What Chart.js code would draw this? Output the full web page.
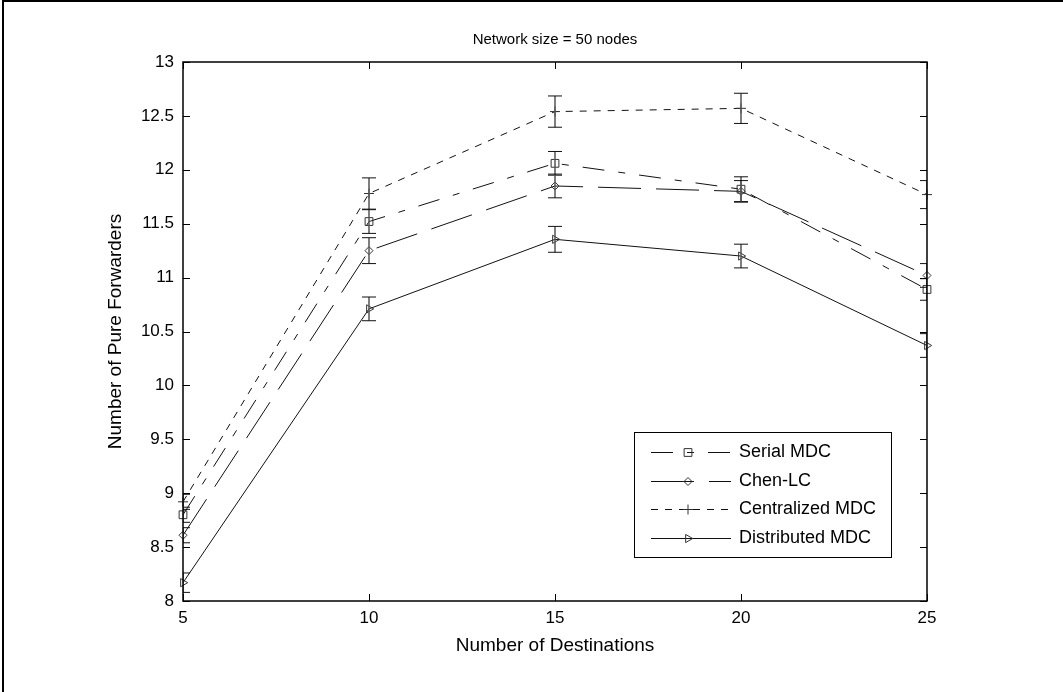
<!DOCTYPE html>
<html>
<head>
<meta charset="utf-8">
<script src="https://cdn.jsdelivr.net/npm/chart.js@4.4.1/dist/chart.umd.min.js"></script>
<style>
  html, body { margin: 0; padding: 0; background: #ffffff; }
  #wrap { width: 1063px; height: 692px; position: relative; }
</style>
</head>
<body>
<div id="wrap"><canvas id="c" width="1063" height="692"></canvas></div>
<script>
// ---- data ----
const categories = [5, 10, 15, 20, 25];
const seriesLabels = ['Serial MDC', 'Chen-LC', 'Centralized MDC', 'Distributed MDC'];
const serialMDC      = [8.80, 11.52, 12.06, 11.82, 10.89];
const serialErr      = [0.07, 0.11, 0.11, 0.115, 0.10];
const chenLC         = [8.61, 11.25, 11.85, 11.80, 11.02];
const chenErr        = [0.07, 0.12, 0.11, 0.10, 0.11];
const centralizedMDC = [8.92, 11.78, 12.54, 12.57, 11.77];
const centralizedErr = [0.07, 0.145, 0.145, 0.14, 0.13];
const distributedMDC = [8.17, 10.71, 11.355, 11.20, 10.37];
const distributedErr = [0.09, 0.11, 0.12, 0.11, 0.11];
const xTickValues = [5, 10, 15, 20, 25];
const yTickValues = [8, 8.5, 9, 9.5, 10, 10.5, 11, 11.5, 12, 12.5, 13];
const titleText = 'Network size = 50 nodes';
const xTitle = 'Number of Destinations';
const yTitle = 'Number of Pure Forwarders';

const FONT = '"Liberation Sans", Arial, Helvetica, sans-serif';
const errors = [serialErr, chenErr, centralizedErr, distributedErr];

function pts(vals) { return categories.map((x, i) => ({ x: x, y: vals[i] })); }

const common = {
  borderColor: '#111111',
  borderWidth: 1,
  fill: false,
  tension: 0,
  pointBorderColor: '#333333',
  pointBackgroundColor: 'rgba(0,0,0,0)',
  pointBorderWidth: 1,
  pointHoverRadius: 5,
  clip: false
};

const datasets = [
  Object.assign({}, common, { label: seriesLabels[0], data: pts(serialMDC), borderDash: [22, 14, 7, 14], pointStyle: 'rect', pointRadius: 5.5 }),
  Object.assign({}, common, { label: seriesLabels[1], data: pts(chenLC), borderDash: [43, 15], pointStyle: 'rectRot', pointRadius: 4 }),
  Object.assign({}, common, { label: seriesLabels[2], data: pts(centralizedMDC), borderDash: [7, 7], pointStyle: 'cross', pointRadius: 5 }),
  Object.assign({}, common, { label: seriesLabels[3], data: pts(distributedMDC), borderDash: [], pointStyle: 'triangle', pointRotation: 90, pointRadius: 4.7 })
];

function drawMarker(ctx, style, x, y, r, rot) {
  ctx.beginPath();
  if (style === 'rect') {
    const s = r * Math.SQRT1_2;
    ctx.rect(x - s, y - s, 2 * s, 2 * s);
  } else if (style === 'rectRot') {
    ctx.moveTo(x - r, y); ctx.lineTo(x, y + r); ctx.lineTo(x + r, y); ctx.lineTo(x, y - r); ctx.closePath();
  } else if (style === 'cross') {
    ctx.moveTo(x - r, y); ctx.lineTo(x + r, y); ctx.moveTo(x, y - r); ctx.lineTo(x, y + r);
  } else if (style === 'triangle') {
    let rad = (rot || 0) * Math.PI / 180;
    ctx.moveTo(x + Math.sin(rad) * r, y - Math.cos(rad) * r);
    rad += 2 * Math.PI / 3;
    ctx.lineTo(x + Math.sin(rad) * r, y - Math.cos(rad) * r);
    rad += 2 * Math.PI / 3;
    ctx.lineTo(x + Math.sin(rad) * r, y - Math.cos(rad) * r);
    ctx.closePath();
  }
  ctx.stroke();
}

const decor = {
  id: 'decor',
  afterDatasetsDraw(chart) {
    const ctx = chart.ctx;
    const xs = chart.scales.x, ys = chart.scales.y;
    const a = chart.chartArea;
    ctx.save();
    // error bars (clipped to the axes box)
    ctx.save();
    ctx.beginPath();
    ctx.rect(a.left, a.top, a.right - a.left, a.bottom - a.top);
    ctx.clip();
    chart.data.datasets.forEach((ds, di) => {
      ds.data.forEach((p, i) => {
        const px = xs.getPixelForValue(p.x);
        const yTop = ys.getPixelForValue(p.y + errors[di][i]);
        const yBot = ys.getPixelForValue(p.y - errors[di][i]);
        ctx.strokeStyle = '#555555';
        ctx.lineWidth = 1.5;
        ctx.beginPath(); ctx.moveTo(px, yTop); ctx.lineTo(px, yBot); ctx.stroke();
        ctx.strokeStyle = '#111111';
        ctx.lineWidth = 1;
        ctx.beginPath();
        ctx.moveTo(px - 7, yTop); ctx.lineTo(px + 7, yTop);
        ctx.moveTo(px - 7, yBot); ctx.lineTo(px + 7, yBot);
        ctx.stroke();
      });
    });
    ctx.restore();

    // axes box
    ctx.strokeStyle = '#000000';
    ctx.lineWidth = 1.5;
    ctx.strokeRect(a.left, a.top, a.right - a.left, a.bottom - a.top);
    // inward ticks on all four sides
    ctx.lineWidth = 1;
    ctx.beginPath();
    const tl = 7;
    yTickValues.forEach(v => {
      const py = Math.round(ys.getPixelForValue(v)) + 0.5;
      ctx.moveTo(a.left, py); ctx.lineTo(a.left + tl, py);
      ctx.moveTo(a.right, py); ctx.lineTo(a.right - tl, py);
    });
    xTickValues.forEach(v => {
      const px = Math.round(xs.getPixelForValue(v)) + 0.5;
      ctx.moveTo(px, a.bottom); ctx.lineTo(px, a.bottom - tl);
      ctx.moveTo(px, a.top); ctx.lineTo(px, a.top + tl);
    });
    ctx.stroke();

    // legend
    const lx = 634, ly = 432, lw = 257, lh = 125;
    ctx.fillStyle = '#ffffff';
    ctx.fillRect(lx, ly, lw, lh);
    ctx.strokeStyle = '#000000';
    ctx.lineWidth = 1;
    ctx.strokeRect(lx + 0.5, ly + 0.5, lw, lh);
    ctx.font = '18px ' + FONT;
    ctx.textBaseline = 'middle';
    ctx.textAlign = 'left';
    chart.data.datasets.forEach((ds, di) => {
      const yy = Math.round(ly + 20 + di * 28.5) + 0.5;
      ctx.strokeStyle = '#111111';
      ctx.lineWidth = 1;
      ctx.setLineDash(ds.borderDash || []);
      ctx.beginPath(); ctx.moveTo(651, yy); ctx.lineTo(731, yy); ctx.stroke();
      ctx.setLineDash([]);
      ctx.strokeStyle = '#333333';
      drawMarker(ctx, ds.pointStyle, 688, yy, ds.pointRadius, ds.pointRotation);
      ctx.fillStyle = '#000000';
      ctx.fillText(ds.label, 739, yy);
    });

    // outer frame (top and left edges)
    ctx.strokeStyle = '#000000';
    ctx.lineWidth = 2;
    ctx.beginPath();
    ctx.moveTo(3, 692); ctx.lineTo(3, 1); ctx.lineTo(1063, 1);
    ctx.stroke();
    ctx.restore();
  }
};

new Chart(document.getElementById('c'), {
  type: 'line',
  data: { datasets: datasets },
  plugins: [decor],
  options: {
    responsive: false,
    animation: false,
    devicePixelRatio: 1,
    layout: { padding: { left: 104, right: 136, top: 0, bottom: 35 } },
    plugins: {
      legend: { display: false },
      tooltip: { enabled: false },
      title: {
        display: true, text: titleText, fullSize: false,
        color: '#000000',
        font: { family: FONT, size: 15, weight: 'normal', lineHeight: 1.2 },
        padding: { top: 31, bottom: 13 }
      }
    },
    scales: {
      x: {
        type: 'linear', min: 5, max: 25,
        afterBuildTicks: s => { s.ticks = xTickValues.map(v => ({ value: v })); },
        afterFit: s => { s.height = 56; },
        grid: { display: false, drawTicks: false },
        border: { display: false },
        ticks: { color: '#000000', padding: 7, maxRotation: 0, font: { family: FONT, size: 17 }, callback: v => String(v) },
        title: { display: true, text: xTitle, color: '#000000', padding: 0, font: { family: FONT, size: 19, lineHeight: 1.2 } }
      },
      y: {
        type: 'linear', min: 8, max: 13,
        afterBuildTicks: s => { s.ticks = yTickValues.map(v => ({ value: v })); },
        afterFit: s => { s.width = 79; },
        grid: { display: false, drawTicks: false },
        border: { display: false },
        ticks: { color: '#000000', padding: 9, font: { family: FONT, size: 17 }, callback: v => String(v) },
        title: { display: true, text: yTitle, color: '#000000', padding: 0, font: { family: FONT, size: 19, lineHeight: 1.2 } }
      }
    }
  }
});
</script>
</body>
</html>
